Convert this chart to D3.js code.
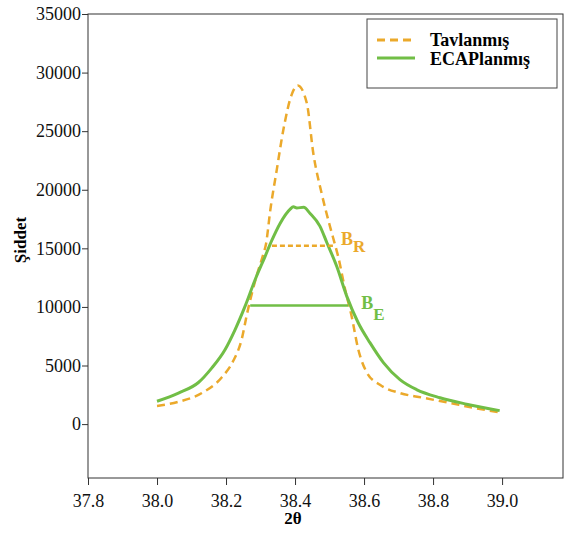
<html>
<head>
<style>
  body { margin: 0; background: #fff; }
  svg text { font-family: "Liberation Serif", "Times New Roman", "DejaVu Serif", "Noto Serif", serif !important; }
</style>
</head>
<body>
<svg id="svg" width="571" height="541"></svg>
<script src="https://d3js.org/d3.v7.min.js"></script>
<script>

// 2theta values and intensities
var tavX = [38.0, 38.062, 38.13, 38.188, 38.221, 38.246, 38.26, 38.289, 38.308, 38.316, 38.328, 38.347, 38.366, 38.39, 38.408,
            38.434, 38.453, 38.477, 38.501, 38.516, 38.525, 38.545, 38.564, 38.583, 38.608, 38.646, 38.704, 38.771, 38.849, 38.916, 38.993];
var tavY = [1550, 1900, 2650, 4000, 5400, 7300, 9300, 12700, 14500, 15400, 18200, 21700, 25100, 28100, 28900,
            27400, 23100, 19700, 16900, 15300, 14300, 11500, 9200, 6400, 4400, 3350, 2650, 2250, 1800, 1400, 1000];

var ecaX = [38.0, 38.062, 38.12, 38.159, 38.197, 38.226, 38.255, 38.284, 38.313, 38.333, 38.357, 38.386, 38.395, 38.405, 38.425, 38.443,
            38.472, 38.492, 38.521, 38.55, 38.583, 38.617, 38.656, 38.704, 38.752, 38.82, 38.897, 38.993];
var ecaY = [1950, 2650, 3550, 4800, 6350, 8050, 10050, 12300, 14300, 15700, 17150, 18350, 18550, 18450, 18500, 18000,
            16900, 15500, 13450, 10900, 8650, 6950, 5250, 3800, 2950, 2250, 1700, 1150];

// half-max width markers
var bR = { x0: 38.333, x1: 38.516, y: 15230 };
var bE = { x0: 38.27, x1: 38.554, y: 10120 };

var xTicks = [37.8, 38.0, 38.2, 38.4, 38.6, 38.8, 39.0];
var yTicks = [0, 5000, 10000, 15000, 20000, 25000, 30000, 35000];

var orange = "#EBA92B", green = "#71BE46";
var L = 88, T = 14, R = 563, B = 478;
var serif = "'Liberation Serif', 'Times New Roman', 'DejaVu Serif', serif";

var svg = d3.select("#svg");
var x = d3.scaleLinear().domain([37.8, 39.1765]).range([L, R]);
var y = d3.scaleLinear().domain([-4600, 35000]).range([B, T]);

// frame
svg.append("rect").attr("x", L).attr("y", T).attr("width", R - L).attr("height", B - T)
  .style("fill", "none").style("stroke", "#333").style("stroke-width", 1);

svg.append("g").attr("transform", "translate(" + L + ",0)")
  .call(d3.axisLeft(y).tickValues(yTicks).tickFormat(d3.format("d")).tickSize(6).tickSizeOuter(0).tickPadding(1))
  .attr("font-family", serif)
  .call(g => g.select(".domain").remove())
  .call(g => g.selectAll("line").attr("stroke", "#333"))
  .call(g => g.selectAll("text").style("font-size", "18px").attr("fill", "#111"));

svg.append("g").attr("transform", "translate(0," + B + ")")
  .call(d3.axisBottom(x).tickValues(xTicks).tickFormat(d3.format(".1f")).tickSize(7).tickSizeOuter(0).tickPadding(9))
  .attr("font-family", serif)
  .call(g => g.select(".domain").remove())
  .call(g => g.selectAll("line").attr("stroke", "#333"))
  .call(g => g.selectAll("text").style("font-size", "18px").attr("fill", "#111"));

svg.append("text").attr("x", 293).attr("y", 524).attr("text-anchor", "middle")
  .style("font-size", "17px").style("font-weight", "bold").text("2θ");

svg.append("text").attr("transform", "translate(26,240) rotate(-90)").attr("text-anchor", "middle")
  .style("font-size", "17px").style("font-weight", "bold").text("Şiddet");

var line = d3.line().x(d => x(d[0])).y(d => y(d[1])).curve(d3.curveMonotoneX);

svg.append("path").datum(d3.zip(tavX, tavY)).attr("d", line)
  .style("fill", "none").style("stroke", orange).style("stroke-width", 2.5).style("stroke-dasharray", "8,5");

svg.append("path").datum(d3.zip(ecaX, ecaY)).attr("d", line)
  .style("fill", "none").style("stroke", green).style("stroke-width", 3);

svg.append("line").attr("x1", x(bR.x0)).attr("x2", x(bR.x1)).attr("y1", y(bR.y)).attr("y2", y(bR.y))
  .style("stroke", orange).style("stroke-width", 2.5).style("stroke-dasharray", "5,3");
svg.append("line").attr("x1", x(bE.x0)).attr("x2", x(bE.x1)).attr("y1", y(bE.y)).attr("y2", y(bE.y))
  .style("stroke", green).style("stroke-width", 2.5);

var lr = svg.append("text").attr("x", x(bR.x1) + 6).attr("y", 245)
  .style("font-size", "18px").style("font-weight", "bold").style("fill", orange);
lr.append("tspan").text("B");
lr.append("tspan").attr("dy", 7).style("font-size", "17px").text("R");

var le = svg.append("text").attr("x", x(bE.x1) + 13).attr("y", 309)
  .style("font-size", "18px").style("font-weight", "bold").style("fill", green);
le.append("tspan").text("B");
le.append("tspan").attr("dy", 11).style("font-size", "17px").text("E");

// legend
var leg = svg.append("g");
leg.append("rect").attr("x", 367).attr("y", 19).attr("width", 190).attr("height", 69)
  .style("fill", "#fff").style("stroke", "#444").style("stroke-width", 1);
leg.append("line").attr("x1", 377).attr("x2", 415).attr("y1", 40).attr("y2", 40)
  .style("stroke", orange).style("stroke-width", 3).style("stroke-dasharray", "8,5");
leg.append("line").attr("x1", 377).attr("x2", 415).attr("y1", 58).attr("y2", 58)
  .style("stroke", green).style("stroke-width", 3);
leg.append("text").attr("x", 430).attr("y", 46).style("font-size", "18px").style("font-weight", "bold").text("Tavlanmış");
leg.append("text").attr("x", 430).attr("y", 65).style("font-size", "18px").style("font-weight", "bold").text("ECAPlanmış");

</script>
</body>
</html>
